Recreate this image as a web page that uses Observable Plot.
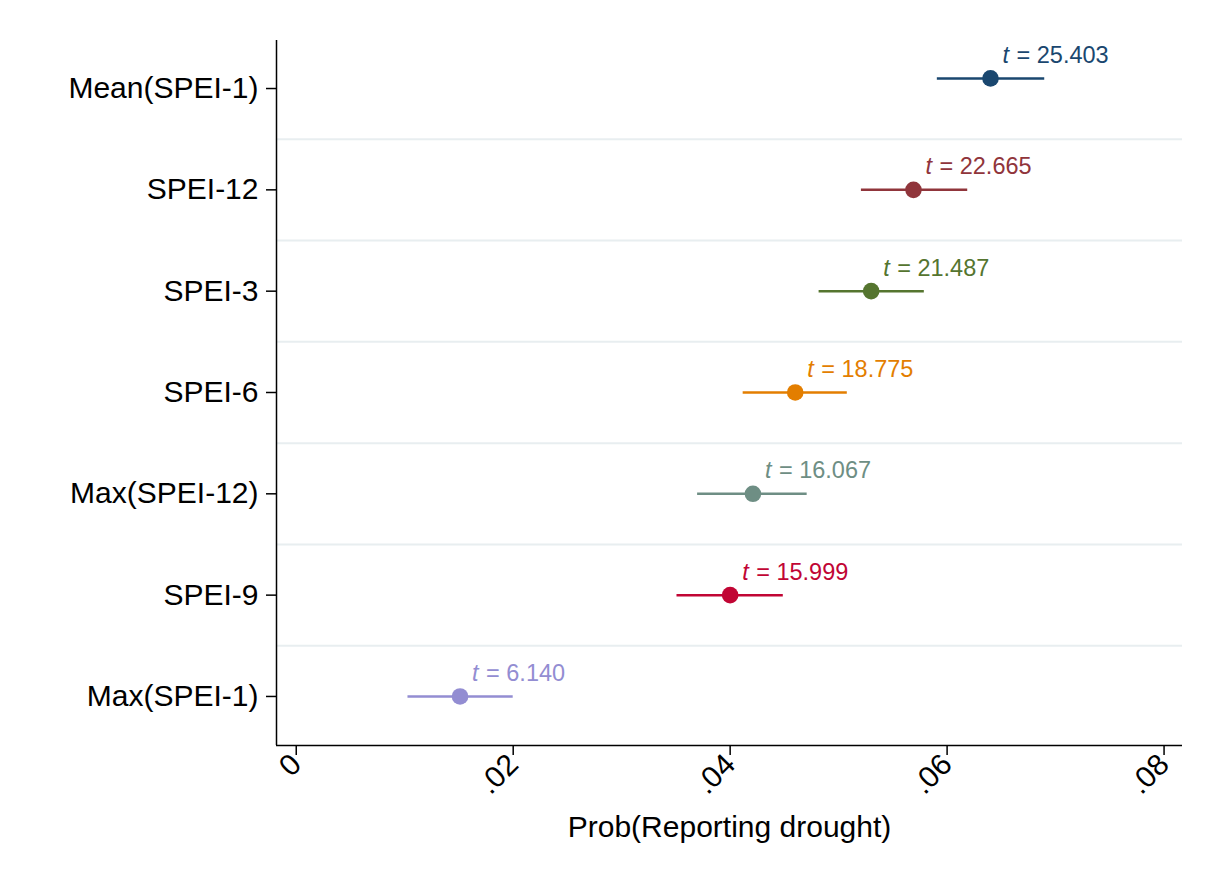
<!DOCTYPE html>
<html>
<head>
<meta charset="utf-8">
<script src="https://cdn.jsdelivr.net/npm/d3@7"></script>
<script src="https://cdn.jsdelivr.net/npm/@observablehq/plot@0.6"></script>
<style>
  html, body { margin: 0; padding: 0; background: #fff; }
</style>
</head>
<body>
<div id="chart"></div>
<script>
const labels = ["Mean(SPEI-1)", "SPEI-12", "SPEI-3", "SPEI-6", "Max(SPEI-12)", "SPEI-9", "Max(SPEI-1)"];
const rowValue = [0.9, 2, 3, 4, 5, 6, 7];
const estimate = [0.0640, 0.0569, 0.0530, 0.0460, 0.0421, 0.0400, 0.0151];
const ciLow   = [0.0591, 0.0521, 0.0482, 0.0412, 0.0370, 0.0351, 0.0103];
const ciHigh  = [0.0690, 0.0619, 0.0579, 0.0508, 0.0471, 0.0449, 0.0200];
const tStat   = ["25.403", "22.665", "21.487", "18.775", "16.067", "15.999", "6.140"];
const palette = ["#1a476f", "#90353b", "#55752f", "#e37e00", "#6e8e84", "#c10534", "#938dd2"];
const xTicks  = [0, 0.02, 0.04, 0.06, 0.08];
const xLabel  = "Prob(Reporting drought)";

const ranks = labels.map((_, i) => i + 1);
const boundaries = ranks.slice(0, -1).map(r => r + 0.5);
const data = labels.map((label, i) => ({
  label, row: rowValue[i], est: estimate[i], lo: ciLow[i], hi: ciHigh[i], t: tStat[i]
}));

const xDomain = [-0.00182, 0.0817];
const yDomain = [0.526, 7.484];
const fmt = d => d === 0 ? "0" : d3.format(".2f")(d).replace(/^0/, "");

const chart = Plot.plot({
  width: 1206,
  height: 880,
  marginLeft: 276,
  marginRight: 24,
  marginTop: 40,
  marginBottom: 135,
  style: { fontFamily: "'Liberation Sans', Arial, sans-serif", background: "#fff", color: "#000" },
  x: { domain: xDomain },
  y: { domain: yDomain, reverse: true },
  color: { domain: labels, range: palette },
  marks: [
    Plot.ruleY(boundaries, { stroke: "#e8eef0", strokeWidth: 2 }),
    Plot.axisY({
      ticks: ranks, tickFormat: i => labels[i - 1], tickSize: 10, tickPadding: 8,
      fontSize: 30, label: null, color: "#000", strokeWidth: 1.5
    }),
    Plot.axisX({
      ticks: xTicks, tickFormat: fmt, tickSize: 10, tickRotate: -45, tickPadding: 4,
      fontSize: 30, label: xLabel, labelAnchor: "center", labelOffset: 91, labelArrow: "none",
      color: "#000", strokeWidth: 1.5
    }),
    Plot.ruleX([xDomain[0]], { stroke: "#000", strokeWidth: 1.5 }),
    Plot.ruleY([yDomain[1]], { stroke: "#000", strokeWidth: 1.5 }),
    Plot.ruleY(data, { y: "row", x1: "lo", x2: "hi", stroke: "label", strokeWidth: 2.5 }),
    Plot.dot(data, { x: "est", y: "row", fill: "label", r: 8.3 }),
    Plot.text(data, { x: "est", y: "row", text: () => "t", dx: 12, dy: -23, textAnchor: "start",
      fontStyle: "italic", fill: "label", fontSize: 23.5 }),
    Plot.text(data, { x: "est", y: "row", text: d => "= " + d.t, dx: 26, dy: -23, textAnchor: "start",
      fill: "label", fontSize: 23.5 })
  ]
});
document.getElementById("chart").appendChild(chart);
</script>
</body>
</html>
